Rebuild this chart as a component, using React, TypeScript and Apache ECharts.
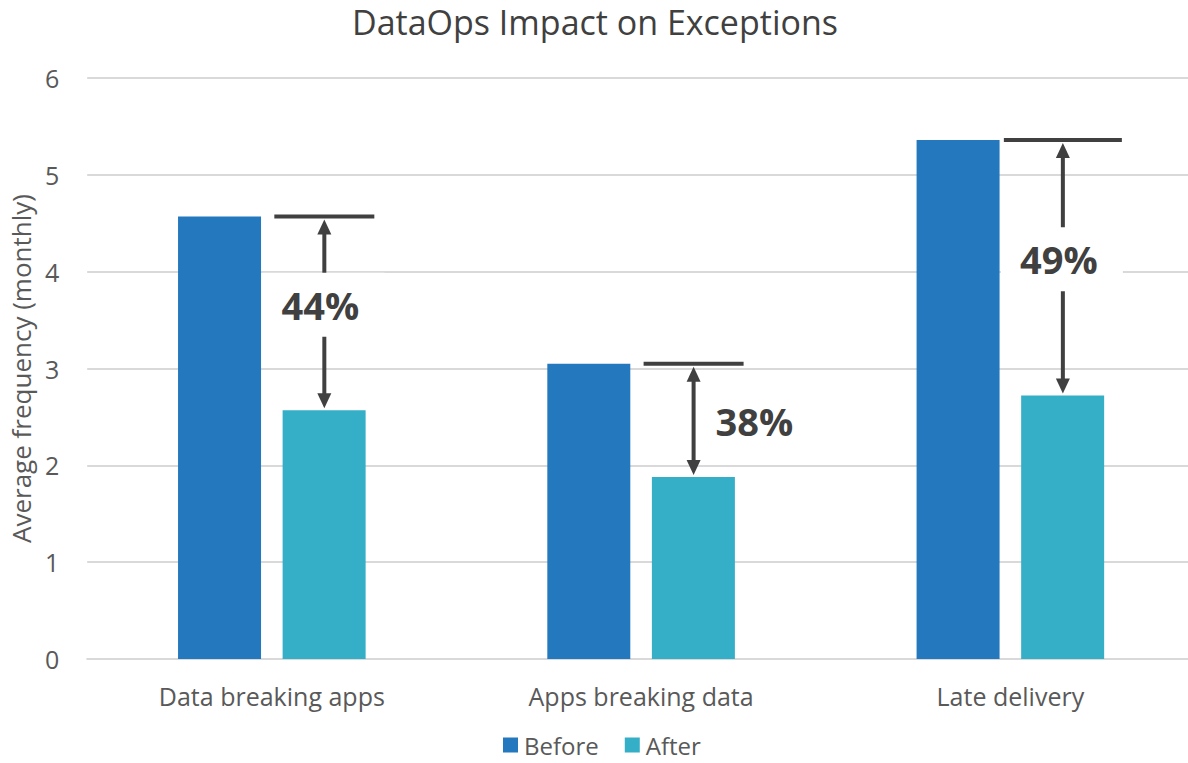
import React, { useEffect, useRef } from "react";
import * as echarts from "echarts";

const categories = ["Data breaking apps", "Apps breaking data", "Late delivery"];
const beforeValues = [4.57, 3.05, 5.36];
const afterValues = [2.57, 1.88, 2.72];
const reductionLabels = ["44%", "38%", "49%"];
const yTicks = [0, 1, 2, 3, 4, 5, 6];

const FONT = "'Open Sans', 'Noto Sans', sans-serif";
const DARK = "#404040";
const GREY = "#595959";

export default function App() {
  const ref = useRef<HTMLDivElement>(null);

  useEffect(() => {
    if (!ref.current) return;
    const chart = echarts.init(ref.current, undefined, { renderer: "svg" });

    const annotationData = categories.map((_, i) => [i, beforeValues[i], afterValues[i]]);

    const option: any = {
      animation: false,
      backgroundColor: "#ffffff",
      textStyle: { fontFamily: FONT },
      title: {
        text: "DataOps Impact on Exceptions",
        left: 347,
        top: 0,
        textStyle: { fontFamily: FONT, fontSize: 34, fontWeight: "normal", color: DARK },
      },
      legend: {
        data: ["Before", "After"],
        left: 498,
        top: 728,
        icon: "rect",
        itemWidth: 15,
        itemHeight: 15,
        itemGap: 26,
        textStyle: { fontFamily: FONT, fontSize: 24, color: GREY, padding: [0, 0, 0, 1] },
      },
      grid: { left: 86, top: 78, width: 1109, height: 581, containLabel: false },
      xAxis: {
        type: "category",
        data: categories,
        axisLine: { show: true, lineStyle: { color: "#d9d9d9", width: 2 } },
        axisTick: { show: false },
        axisLabel: { fontFamily: FONT, fontSize: 25, color: GREY, margin: 24 },
      },
      yAxis: {
        type: "value",
        min: yTicks[0],
        max: yTicks[yTicks.length - 1],
        interval: 1,
        name: "Average frequency (monthly)",
        nameLocation: "middle",
        nameGap: 49,
        nameTextStyle: { fontFamily: FONT, fontSize: 26, color: GREY },
        axisLine: { show: false },
        axisTick: { show: false },
        axisLabel: { fontFamily: FONT, fontSize: 25, color: GREY, margin: 28 },
        splitLine: { lineStyle: { color: "#d9d9d9", width: 2 } },
      },
      series: [
        {
          name: "Before",
          type: "bar",
          data: beforeValues,
          barWidth: 83,
          barGap: "26%",
          itemStyle: { color: "#2479BE" },
        },
        {
          name: "After",
          type: "bar",
          data: afterValues,
          barWidth: 83,
          itemStyle: { color: "#35AEC7" },
        },
        {
          name: "annotations",
          type: "custom",
          data: annotationData,
          z: 10,
          silent: true,
          renderItem: (params: any, api: any) => {
            const idx = api.value(0);
            const before = api.value(1);
            const after = api.value(2);
            const label = reductionLabels[idx];
            const top = api.coord([idx, before]);
            const bot = api.coord([idx, after]);
            const x = top[0] + 52.5;
            const yTop = top[1];
            const yBot = bot[1];
            const head = 15;
            const half = 7;
            const yTipTop = yTop + 3;
            const yTipBot = yBot - 2;
            const children: any[] = [];
            const hw = 50 + (idx === 2 ? 9 : 0);
            children.push({
              type: "line",
              shape: { x1: x - hw, y1: yTop, x2: x + hw, y2: yTop },
              style: { stroke: DARK, lineWidth: 4 },
            });
            children.push({
              type: "line",
              shape: { x1: x, y1: yTipTop + head - 1, x2: x, y2: yTipBot - head + 1 },
              style: { stroke: DARK, lineWidth: 4 },
            });
            children.push({
              type: "polygon",
              shape: { points: [[x, yTipTop], [x - half, yTipTop + head], [x + half, yTipTop + head]] },
              style: { fill: DARK },
            });
            children.push({
              type: "polygon",
              shape: { points: [[x, yTipBot], [x - half, yTipBot - head], [x + half, yTipBot - head]] },
              style: { fill: DARK },
            });
            const inside = yBot - yTop > 150;
            if (inside) {
              const mid = (yTipTop + yTipBot) / 2 - 9;
              children.push({
                type: "rect",
                shape: { x: x - 62, y: mid - 32, width: 122, height: 64 },
                style: { fill: "#ffffff" },
              });
              children.push({
                type: "text",
                x: x - 4,
                y: mid,
                style: {
                  text: label,
                  fontFamily: FONT,
                  fontSize: 38,
                  fontWeight: "bold",
                  fill: DARK,
                  align: "center",
                  verticalAlign: "middle",
                },
              });
            } else {
              const mid = (yTipTop + yTipBot) / 2;
              children.push({
                type: "text",
                x: x + 22,
                y: mid,
                style: {
                  text: label,
                  fontFamily: FONT,
                  fontSize: 38,
                  fontWeight: "bold",
                  fill: DARK,
                  align: "left",
                  verticalAlign: "middle",
                },
              });
            }
            return { type: "group", children };
          },
        },
      ],
    };

    chart.setOption(option);
    return () => chart.dispose();
  }, []);

  return (
    <div style={{ position: "absolute", left: 0, top: 0, width: 1188, height: 763, overflow: "hidden" }}>
      <div ref={ref} style={{ width: 1200, height: 763 }} />
    </div>
  );
}
